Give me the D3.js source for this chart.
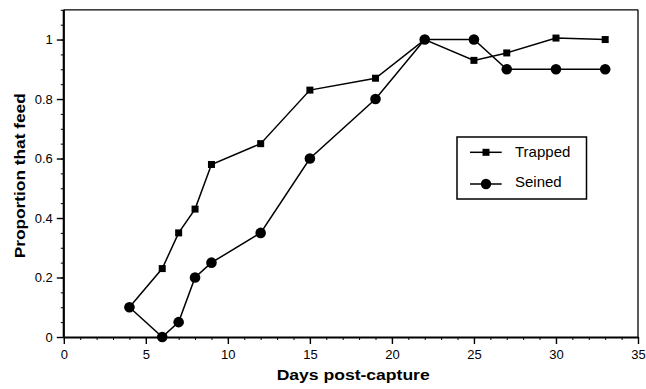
<!DOCTYPE html>
<html><head><meta charset="utf-8">
<script src="https://cdn.jsdelivr.net/npm/d3@7"></script>
<style>body{margin:0;background:#fff}svg{display:block}</style>
</head><body><svg id="c" width="646" height="389"></svg>
<script>
const days = [4, 6, 7, 8, 9, 12, 15, 19, 22, 25, 27, 30, 33];
const trapped = [0.10, 0.23, 0.35, 0.43, 0.58, 0.65, 0.83, 0.87, 1.00, 0.93, 0.955, 1.005, 1.00];
const seined  = [0.10, 0.00, 0.05, 0.20, 0.25, 0.35, 0.60, 0.80, 1.00, 1.00, 0.90, 0.90, 0.90];
const xTicks = [0, 5, 10, 15, 20, 25, 30, 35];
const yTicks = [0, 0.2, 0.4, 0.6, 0.8, 1];
const yTickLabels = ["0", "0.2", "0.4", "0.6", "0.8", "1"];
const seriesNames = ["Trapped", "Seined"];

const svg = d3.select("#c");
const L = 63.8, R = 638, T = 9.8, B = 337;
const x = d3.scaleLinear().domain([0, 35]).range([L, R]);
const y = d3.scaleLinear().domain([0, 1.1]).range([B, T]);
const font = "'Liberation Sans', Arial, Helvetica, sans-serif";

// frame top/right
svg.append("line").attr("x1", L).attr("x2", R).attr("y1", T).attr("y2", T).attr("stroke", "#000").attr("stroke-width", 1.3);
svg.append("line").attr("x1", R).attr("x2", R).attr("y1", T).attr("y2", B).attr("stroke", "#000").attr("stroke-width", 1.3);

// x axis
const xMinor = d3.range(0, 36, 1);
svg.append("g").attr("transform", `translate(0,${B})`)
  .call(d3.axisBottom(x).tickValues(xMinor).tickSize(3).tickFormat(""))
  .call(g => g.select(".domain").remove())
  .call(g => g.selectAll("line").attr("stroke-width", 1));
const gx = svg.append("g").attr("transform", `translate(0,${B})`)
  .call(d3.axisBottom(x).tickValues(xTicks).tickSize(7).tickSizeOuter(0).tickPadding(6).tickFormat(d3.format("d")));
gx.select(".domain").attr("stroke-width", 2.2);
gx.selectAll("line").attr("stroke-width", 1.4);
gx.selectAll("text").attr("font-family", font).attr("font-size", 13).attr("fill", "#000");

// y axis
const yMinor = d3.range(0, 1.1001, 0.05);
svg.append("g").attr("transform", `translate(${L},0)`)
  .call(d3.axisLeft(y).tickValues(yMinor).tickSize(3).tickFormat(""))
  .call(g => g.select(".domain").remove())
  .call(g => g.selectAll("line").attr("stroke-width", 1));
const gy = svg.append("g").attr("transform", `translate(${L},0)`)
  .call(d3.axisLeft(y).tickValues(yTicks).tickSize(7).tickSizeOuter(0).tickPadding(4).tickFormat((d, i) => yTickLabels[i]));
gy.select(".domain").attr("stroke-width", 2.2).attr("d", `M0,${B}V${T}`);
gy.selectAll("line").attr("stroke-width", 1.4);
gy.selectAll("text").attr("font-family", font).attr("font-size", 13).attr("fill", "#000");

// titles
svg.append("text").attr("x", 276.7).attr("y", 379.5)
  .attr("font-family", font).attr("font-weight", "bold").attr("font-size", 14)
  .attr("textLength", 153).attr("lengthAdjust", "spacingAndGlyphs").text("Days post-capture");
svg.append("text").attr("transform", `translate(25,258.3) rotate(-90)`)
  .attr("font-family", font).attr("font-weight", "bold").attr("font-size", 15)
  .attr("textLength", 165).attr("lengthAdjust", "spacingAndGlyphs").text("Proportion that feed");

// lines
const line = d3.line().x(d => x(d[0])).y(d => y(d[1]));
const tData = days.map((d, i) => [d, trapped[i]]);
const sData = days.map((d, i) => [d, seined[i]]);
svg.append("path").datum(tData).attr("d", line).attr("fill", "none").attr("stroke", "#000").attr("stroke-width", 1.5);
svg.append("path").datum(sData).attr("d", line).attr("fill", "none").attr("stroke", "#000").attr("stroke-width", 1.5);

const sq = 7;
svg.append("g").selectAll("rect").data(tData).join("rect")
  .attr("x", d => x(d[0]) - sq / 2).attr("y", d => y(d[1]) - sq / 2).attr("width", sq).attr("height", sq).attr("fill", "#000");
svg.append("g").selectAll("circle").data(sData).join("circle")
  .attr("cx", d => x(d[0])).attr("cy", d => y(d[1])).attr("r", 5.3).attr("fill", "#000");

// legend
const lg = svg.append("g");
lg.append("rect").attr("x", 457).attr("y", 137).attr("width", 129.5).attr("height", 62)
  .attr("fill", "#fff").attr("stroke", "#000").attr("stroke-width", 1.5);
const rows = [152.3, 184];
const baselines = [156.7, 186.7];
seriesNames.forEach((name, i) => {
  const yy = rows[i];
  lg.append("line").attr("x1", 470).attr("x2", 501.7).attr("y1", yy).attr("y2", yy).attr("stroke", "#000").attr("stroke-width", 1.5);
  if (i === 0) lg.append("rect").attr("x", 486 - sq / 2).attr("y", yy - sq / 2).attr("width", sq).attr("height", sq).attr("fill", "#000");
  else lg.append("circle").attr("cx", 486).attr("cy", yy).attr("r", 5.2).attr("fill", "#000");
  lg.append("text").attr("x", 515).attr("y", baselines[i]).attr("font-family", font).attr("font-size", 15).text(name);
});
</script></body></html>
